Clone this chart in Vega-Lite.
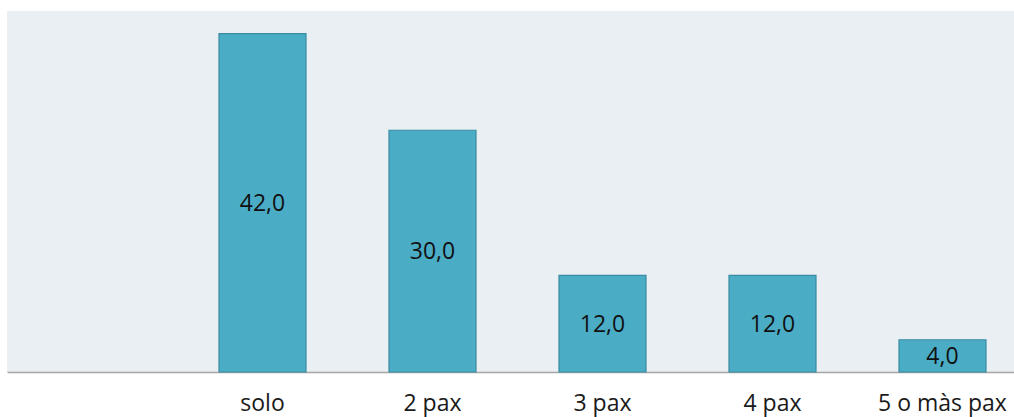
{
  "$schema": "https://vega.github.io/schema/vega-lite/v6.json",
  "width": 1007,
  "height": 361,
  "autosize": {"type": "none"},
  "padding": {"left": 7, "top": 11, "right": 0, "bottom": 45},
  "background": "#ffffff",
  "config": {
    "locale": {"number": {"decimal": ",", "thousands": ".", "grouping": [3], "currency": ["", " €"]}},
    "view": {"fill": "#E9EFF3", "stroke": null},
    "font": "Open Sans"
  },
  "data": {
    "values": [
      {"cat": "solo", "value": 42},
      {"cat": "2 pax", "value": 30},
      {"cat": "3 pax", "value": 12},
      {"cat": "4 pax", "value": 12},
      {"cat": "5 o màs pax", "value": 4}
    ]
  },
  "encoding": {
    "x": {
      "field": "cat",
      "type": "nominal",
      "sort": null,
      "scale": {"domain": [" ", "solo", "2 pax", "3 pax", "4 pax", "5 o màs pax"], "paddingInner": 0.4882, "paddingOuter": 0.2059, "align": 0.6},
      "axis": {"title": null, "labelAngle": 0, "ticks": false, "domainColor": "#A6A6A6", "domainWidth": 1.5, "labelFontSize": 23, "labelColor": "#1a1a1a", "labelPadding": 20, "labelFont": "Open Sans"}
    }
  },
  "layer": [
    {
      "mark": {"type": "bar", "fill": "#4BACC6", "stroke": "#3A8CA2", "strokeWidth": 1.2},
      "encoding": {
        "y": {"field": "value", "type": "quantitative", "scale": {"domain": [0, 44.8], "nice": false}, "axis": null}
      }
    },
    {
      "mark": {"type": "text", "fontSize": 23, "color": "#111111", "font": "Open Sans", "baseline": "middle", "dy": 1},
      "encoding": {
        "y": {"field": "value", "type": "quantitative", "scale": {"domain": [0, 89.6], "nice": false}, "axis": null},
        "text": {"field": "value", "type": "quantitative", "format": ".1f"}
      }
    }
  ],
  "resolve": {"scale": {"y": "independent"}}
}
